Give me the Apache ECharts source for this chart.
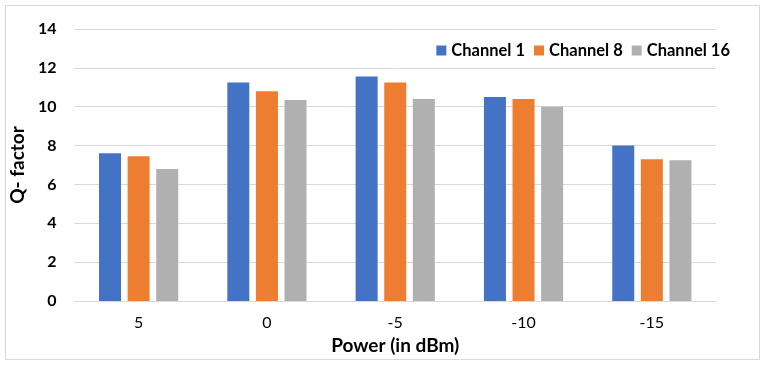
<!DOCTYPE html>
<html>
<head>
<meta charset="utf-8">
<script src="https://cdn.jsdelivr.net/npm/echarts@6/dist/echarts.min.js"></script>
<style>
  html, body { margin: 0; padding: 0; background: #fff; }
  #frame { position: absolute; left: 5px; top: 5px; width: 755px; height: 355px; border: 1px solid #d9d9d9; box-sizing: border-box; }
  #chart { position: absolute; left: 0; top: 0; width: 765px; height: 366px; }
</style>
</head>
<body>
<div id="frame"></div>
<div id="chart"></div>
<script>
const categories = ['5', '0', '-5', '-10', '-15'];
const channel1 = [7.6, 11.25, 11.55, 10.5, 8.0];
const channel8 = [7.45, 10.8, 11.25, 10.4, 7.3];
const channel16 = [6.8, 10.35, 10.4, 10.0, 7.25];

const font = 'Lato, "Liberation Sans", sans-serif';
const chart = echarts.init(document.getElementById('chart'), null, { renderer: 'canvas' });

const mkSeries = (name, data, color) => ({
  name,
  type: 'bar',
  data,
  barWidth: 22,
  barGap: '30%',
  itemStyle: { color },
});

chart.setOption({
  animation: false,
  backgroundColor: 'transparent',
  textStyle: { fontFamily: font },
  legend: {
    right: 30,
    top: 37,
    itemWidth: 10,
    itemHeight: 10,
    itemGap: 9,
    icon: 'rect',
    textStyle: { fontFamily: font, fontSize: 16.5, fontWeight: 'bold', color: '#000' },
  },
  grid: { left: 73, right: 49, top: 29, bottom: 65 },
  xAxis: {
    type: 'category',
    data: categories,
    name: 'Power (in dBm)',
    nameLocation: 'middle',
    nameGap: 35,
    nameTextStyle: { fontFamily: font, fontSize: 19, fontWeight: 'bold', color: '#000' },
    axisLine: { lineStyle: { color: '#d9d9d9' } },
    axisTick: { show: false },
    axisLabel: { fontFamily: font, fontSize: 16, color: '#000', margin: 14 },
  },
  yAxis: {
    type: 'value',
    min: 0,
    max: 14,
    interval: 2,
    name: 'Q- factor',
    nameLocation: 'middle',
    nameGap: 41,
    nameTextStyle: { fontFamily: font, fontSize: 19, fontWeight: 'bold', color: '#000' },
    axisLine: { show: false },
    axisTick: { show: false },
    axisLabel: { fontFamily: font, fontSize: 16, fontWeight: 'bold', color: '#000', margin: 18 },
    splitLine: { lineStyle: { color: '#d9d9d9', width: 1 } },
  },
  series: [
    mkSeries('Channel 1', channel1, '#4472C4'),
    mkSeries('Channel 8', channel8, '#ED7D31'),
    mkSeries('Channel 16', channel16, '#B0B0B0'),
  ],
});
</script>
</body>
</html>
